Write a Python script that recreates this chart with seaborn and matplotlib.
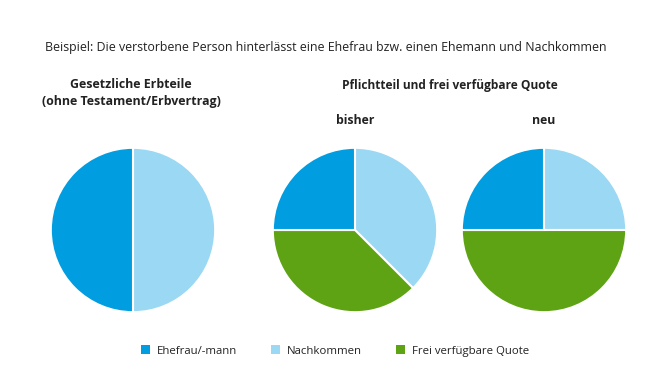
import matplotlib
matplotlib.use("Agg")
import matplotlib.pyplot as plt
from matplotlib.patches import Patch
import seaborn as sns

categories = ["Ehefrau/-mann", "Nachkommen", "Frei verfügbare Quote"]
colors = ["#009DE0", "#9AD8F3", "#5EA313"]
gesetzlich = [50, 50, 0]
bisher = [25, 37.5, 37.5]
neu = [25, 25, 50]

title = "Beispiel: Die verstorbene Person hinterlässt eine Ehefrau bzw. einen Ehemann und Nachkommen"
sub1 = "Gesetzliche Erbteile\n(ohne Testament/Erbvertrag)"
sub2 = "Pflichtteil und frei verfügbare Quote"
label_bisher = "bisher"
label_neu = "neu"

sns.set_theme(style="white")
plt.rcParams["font.family"] = ["Open Sans", "DejaVu Sans"]

W, H = 670, 377
fig = plt.figure(figsize=(W / 100, H / 100), dpi=100)
fig.patch.set_facecolor("white")

draw_order = [1, 2, 0]  # clockwise from top: Nachkommen, Frei, Ehefrau


def add_pie(cx, cy, r, vals):
    ax = fig.add_axes([(cx - r) / W, (H - cy - r) / H, 2 * r / W, 2 * r / H])
    v = [vals[i] for i in draw_order if vals[i] > 0]
    c = [colors[i] for i in draw_order if vals[i] > 0]
    ax.pie(v, colors=c, startangle=90, counterclock=False, radius=1,
           wedgeprops=dict(edgecolor="white", linewidth=1.5))
    ax.set_xlim(-1.01, 1.01)
    ax.set_ylim(-1.01, 1.01)
    ax.set_aspect("equal")
    ax.axis("off")
    return ax


add_pie(133, 230, 83, gesetzlich)
add_pie(355, 230, 83, bisher)
add_pie(544, 230, 83, neu)

tc = "#222222"
fig.text(326 / W, 1 - 48 / H, title, ha="center", va="center", fontsize=8.9, color=tc)
fig.text(131 / W, 1 - 93 / H, sub1, ha="center", va="center", fontsize=8.9,
         fontweight="bold", color=tc, linespacing=1.3)
fig.text(450 / W, 1 - 86 / H, sub2, ha="center", va="center", fontsize=8.6,
         fontweight="bold", color=tc)
fig.text(355 / W, 1 - 121 / H, label_bisher, ha="center", va="center", fontsize=8.8,
         fontweight="bold", color=tc)
fig.text(544 / W, 1 - 121 / H, label_neu, ha="center", va="center", fontsize=8.8,
         fontweight="bold", color=tc)

handles = [Patch(facecolor=col, edgecolor="none", label=lab) for col, lab in zip(colors, categories)]
fig.legend(handles=handles, loc="center", bbox_to_anchor=(335 / W, 1 - 351 / H), ncol=3,
           frameon=False, fontsize=8.2, handlelength=0.8, handleheight=0.8,
           handletextpad=0.6, columnspacing=3.0, labelcolor=tc)

fig.savefig("out.png", dpi=100, facecolor="white")
